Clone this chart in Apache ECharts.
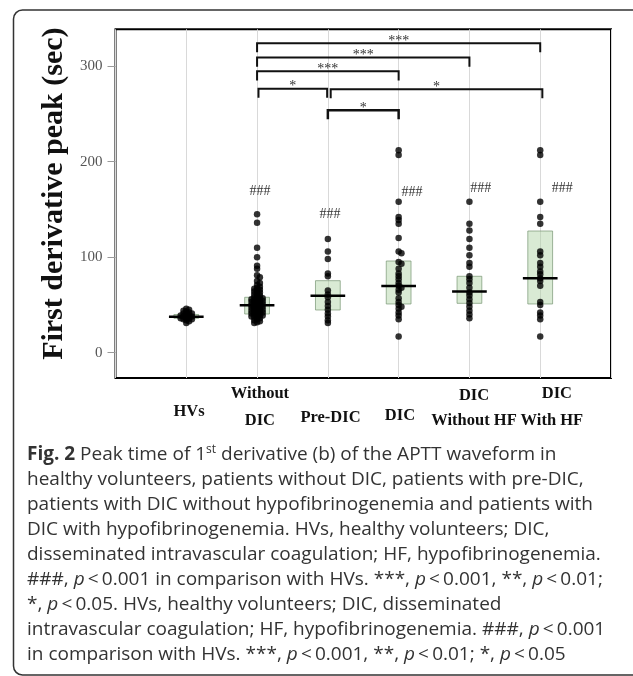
<!DOCTYPE html>
<html>
<head>
<meta charset="utf-8">
<script src="https://cdn.jsdelivr.net/npm/echarts@6/dist/echarts.min.js"></script>
<style>
  html, body { margin: 0; padding: 0; background: #fff; }
  #chart { width: 633px; height: 676px; }
</style>
</head>
<body>
<div id="chart"></div>
<script>
// Groups shown along the horizontal axis
const categories = ['HVs', 'Without\nDIC', 'Pre-DIC', 'DIC', 'DIC\nWithout HF', 'DIC\nWith HF'];

// Individual first-derivative peak times (sec) per group
const hvsValues = [31, 33, 34, 35, 35, 36, 36, 37, 37, 37, 38, 38, 38, 39, 39, 39, 40, 40, 41, 41, 42, 43, 44, 45, 46];
const withoutDicValues = [145, 136, 110, 100, 91, 88, 81, 79, 75, 73, 71, 69, 68, 67, 66, 65, 64, 63, 62, 61, 60, 59, 58, 57, 57, 56, 56, 55, 55, 54, 54, 53, 53, 52, 52, 51, 51, 50, 50, 50, 49, 49, 48, 48, 47, 47, 46, 46, 45, 45, 44, 44, 43, 43, 42, 42, 41, 41, 40, 40, 39, 39, 38, 38, 37, 36, 35, 34, 33, 32, 31];
const preDicValues = [119, 106, 98, 83, 80, 65, 61, 58, 53, 49, 45, 41, 38, 34, 31];
const dicValues = [212, 207, 158, 142, 139, 135, 120, 106, 104, 95, 93, 88, 83, 80, 77, 73, 70, 68, 66, 63, 57, 53, 50, 48, 46, 42, 39, 35, 17];
const dicNoHfValues = [158, 135, 128, 119, 110, 102, 94, 90, 80, 77, 73, 68, 63, 60, 56, 52, 48, 44, 40, 36];
const dicHfValues = [212, 207, 158, 142, 135, 106, 102, 94, 90, 85, 82, 78, 75, 70, 53, 50, 42, 39, 35, 17];

// Interquartile range and median per group
const lowerQuartile = [36, 40.5, 44.7, 51, 51.7, 51];
const upperQuartile = [40, 58, 75.4, 96, 80, 127.4];
const medians = [37.7, 49.6, 59.7, 69.8, 64, 78];

// Significance versus HVs
const vsHvsMark = ['', '###', '###', '###', '###', '###'];

// Pairwise comparisons (1-based group numbers)
const pairFrom = [2, 2, 2, 2, 3, 3];
const pairTo = [6, 5, 4, 3, 6, 4];
const pairStars = ['***', '***', '***', '*', '*', '*'];

// Value-axis tick labels
const yTickValues = [0, 100, 200, 300];

// Caption
const captionLines = [
  '{b|Fig. 2} Peak time of 1{sup|st} derivative (b) of the APTT waveform in',
  'healthy volunteers, patients without DIC, patients with pre-DIC,',
  'patients with DIC without hypofibrinogenemia and patients with',
  'DIC with hypofibrinogenemia. HVs, healthy volunteers; DIC,',
  'disseminated intravascular coagulation; HF, hypofibrinogenemia.',
  '###, {i|p}\u2009<\u20090.001 in comparison with HVs. ***, {i|p}\u2009<\u20090.001, **, {i|p}\u2009<\u20090.01;',
  '*, {i|p}\u2009<\u20090.05. HVs, healthy volunteers; DIC, disseminated',
  'intravascular coagulation; HF, hypofibrinogenemia. ###, {i|p}\u2009<\u20090.001',
  'in comparison with HVs. ***, {i|p}\u2009<\u20090.001, **, {i|p}\u2009<\u20090.01; *, {i|p}\u2009<\u20090.05'
];

const groupValues = [hvsValues, withoutDicValues, preDicValues, dicValues, dicNoHfValues, dicHfValues];

// ---- layout constants ----
const X_MIN = 0, X_MAX = 7, Y_MIN = -26.5, Y_MAX = 338.6;
const GRID = { left: 115.5, right: 22, top: 29.3, bottom: 298 };
const pxPerX = (633 - GRID.left - GRID.right) / (X_MAX - X_MIN);
const pxPerY = (676 - GRID.top - GRID.bottom) / (Y_MAX - Y_MIN);
const BOX_HALF = 0.175, MEDIAN_HALF = 0.245;
const bracketRows = [324, 309, 294.6, 276.4, 275.8, 253.8];
const bracketEnds = [[0, 0], [0, 0], [0, 0], [0.02, -0.01], [0.04, 0.03], [0, 0]];
const BRACKET_DROP = 9.5;
const markOffset = [[0, 0], [0.04, 169], [0.03, 145], [0.19, 168], [0.16, 172], [0.31, 172]];

// compact beeswarm: nudge overlapping dots sideways, within a narrow column
function swarm(values, cx) {
  const placed = [];
  const minDist = 2.6, step = 1.4, maxOff = 8;
  return values.map(v => {
    const y = v * pxPerY;
    let off = 0, best = Infinity;
    for (let k = 0; k < 40; k++) {
      const cand = k === 0 ? 0 : (k % 2 ? 1 : -1) * Math.ceil(k / 2) * step;
      if (Math.abs(cand) > maxOff) break;
      const near = placed.reduce((m, p) => Math.min(m, Math.hypot(p[0] - cand, p[1] - y)), Infinity);
      if (near >= minDist) { off = cand; best = -1; break; }
    }
    placed.push([off, y]);
    return [cx + off / pxPerX, v];
  });
}

const dotData = [];
groupValues.forEach((vals, i) => swarm(vals, i + 1).forEach(p => dotData.push(p)));

const boxData = categories.map((c, i) => [i + 1, lowerQuartile[i], upperQuartile[i]]);
const medianData = categories.map((c, i) => [i + 1, medians[i]]);
const markData = categories.map((c, i) => [i + 1, vsHvsMark[i]]).filter(d => d[1]);
const bracketData = pairFrom.map((f, i) => [f, pairTo[i], i]);

// x-axis label styling per group
const labelStyles = [
  ['s1'], ['t', 't'], ['s2'], ['s3'], ['t2', 't'], ['tr', 'tl']
];
const labelPos = [1.038, 2.04, 3.037, 4.018, 5.065, 6.2];
const serifBold = { fontFamily: 'Liberation Serif', fontWeight: 'bold', fontSize: 16.5, color: '#111', lineHeight: 27 };

const captionFont = { fontFamily: 'Open Sans', fontSize: 19, color: '#333', lineHeight: 25 };

const chart = echarts.init(document.getElementById('chart'), null, { renderer: 'canvas' });

chart.setOption({
  animation: false,
  backgroundColor: '#fff',
  title: {
    left: 22, top: 437,
    text: captionLines.join('\n'),
    textStyle: Object.assign({}, captionFont, {
      fontWeight: 'normal',
      rich: {
        b: Object.assign({}, captionFont, { fontWeight: 'bold' }),
        i: Object.assign({}, captionFont, { fontStyle: 'italic' }),
        sup: Object.assign({}, captionFont, { fontSize: 12, lineHeight: 25, padding: [0, 0, 10, 0] })
      }
    })
  },
  graphic: [{
    type: 'rect', silent: true, z: 10,
    shape: { x: 13.5, y: 10, width: 700, height: 665, r: 9 },
    style: { fill: 'none', stroke: '#333', lineWidth: 1.5 }
  }],
  grid: Object.assign({ show: true, borderColor: '#000', borderWidth: 2, backgroundColor: 'transparent' }, GRID),
  xAxis: {
    type: 'value', min: X_MIN, max: X_MAX, interval: 1,
    axisLine: { show: false }, axisTick: { show: false },
    splitLine: { show: true, lineStyle: { color: '#d9d9d9', width: 1 } },
    axisLabel: {
      customValues: labelPos,
      margin: 2,
      formatter: v => {
        const i = Math.round(v) - 1;
        const parts = categories[i].split('\n');
        return parts.map((p, k) => '{' + labelStyles[i][k] + '|' + p + '}').join('\n');
      },
      rich: {
        t: serifBold,
        t2: Object.assign({}, serifBold, { padding: [5, 0, 0, 0] }),
        tr: Object.assign({}, serifBold, { padding: [0, 0, 0, 5] }),
        tl: Object.assign({}, serifBold, { padding: [0, 5, 0, 0] }),
        s1: Object.assign({}, serifBold, { padding: [36, 0, 0, 0] }),
        s2: Object.assign({}, serifBold, { padding: [48, 0, 0, 0] }),
        s3: Object.assign({}, serifBold, { padding: [44, 0, 0, 0] })
      }
    }
  },
  yAxis: {
    type: 'value', min: Y_MIN, max: Y_MAX,
    axisLine: { show: false },
    axisTick: { show: true, customValues: yTickValues, length: 8, lineStyle: { color: '#999' } },
    axisLabel: { customValues: yTickValues, margin: 13, fontFamily: 'Liberation Serif', fontSize: 15, color: '#555' },
    splitLine: { show: false },
    name: 'First derivative peak (sec)',
    nameLocation: 'middle', nameGap: 40, nameRotate: 90,
    nameTextStyle: { fontFamily: 'Liberation Serif', fontWeight: 'bold', fontSize: 30, color: '#111', padding: [0, 0, 0, 20] }
  },
  series: [
    {
      // interquartile boxes
      type: 'custom', z: 1, data: boxData,
      renderItem: (params, api) => {
        const x = api.value(0);
        const a = api.coord([x - BOX_HALF, api.value(2)]);
        const b = api.coord([x + BOX_HALF, api.value(1)]);
        return {
          type: 'rect',
          shape: { x: a[0], y: a[1], width: b[0] - a[0], height: b[1] - a[1] },
          style: { fill: 'rgba(170,208,160,0.45)', stroke: 'rgba(120,150,115,0.7)', lineWidth: 1 }
        };
      }
    },
    {
      type: 'scatter', z: 2, data: dotData,
      symbol: 'circle', symbolSize: 6.5,
      itemStyle: { color: '#000' }
    },
    {
      // median bars
      type: 'custom', z: 3, data: medianData,
      renderItem: (params, api) => {
        const x = api.value(0);
        const a = api.coord([x - MEDIAN_HALF, api.value(1)]);
        const b = api.coord([x + MEDIAN_HALF, api.value(1)]);
        return {
          type: 'line',
          shape: { x1: a[0], y1: a[1], x2: b[0], y2: b[1] },
          style: { stroke: '#000', lineWidth: 2.5 }
        };
      }
    },
    {
      // "###" marks
      type: 'custom', z: 3, data: markData,
      renderItem: (params, api) => {
        const i = api.value(0) - 1;
        const p = api.coord([api.value(0) + markOffset[i][0], markOffset[i][1]]);
        return {
          type: 'text',
          style: {
            x: p[0], y: p[1], text: vsHvsMark[i], align: 'center', verticalAlign: 'middle',
            fontFamily: 'Liberation Serif', fontSize: 14, fill: '#333'
          }
        };
      }
    },
    {
      // comparison brackets
      type: 'custom', z: 3, data: bracketData,
      renderItem: (params, api) => {
        const k = api.value(2);
        const x1 = api.value(0) + bracketEnds[k][0];
        const x2 = api.value(1) + bracketEnds[k][1];
        const lvl = bracketRows[k];
        const p1 = api.coord([x1, lvl - BRACKET_DROP]);
        const p2 = api.coord([x1, lvl]);
        const p3 = api.coord([x2, lvl]);
        const p4 = api.coord([x2, lvl - BRACKET_DROP]);
        return {
          type: 'group',
          children: [
            { type: 'polyline', shape: { points: [p1, p2, p3, p4] },
              style: { stroke: '#111', lineWidth: k === 5 ? 2.5 : 2, fill: 'none' } },
            { type: 'text', style: {
                x: (p2[0] + p3[0]) / 2, y: p2[1] - 2, text: pairStars[k],
                align: 'center', verticalAlign: 'middle',
                fontFamily: 'Liberation Serif', fontSize: 14, fill: '#333' } }
          ]
        };
      }
    }
  ]
});
</script>
</body>
</html>
